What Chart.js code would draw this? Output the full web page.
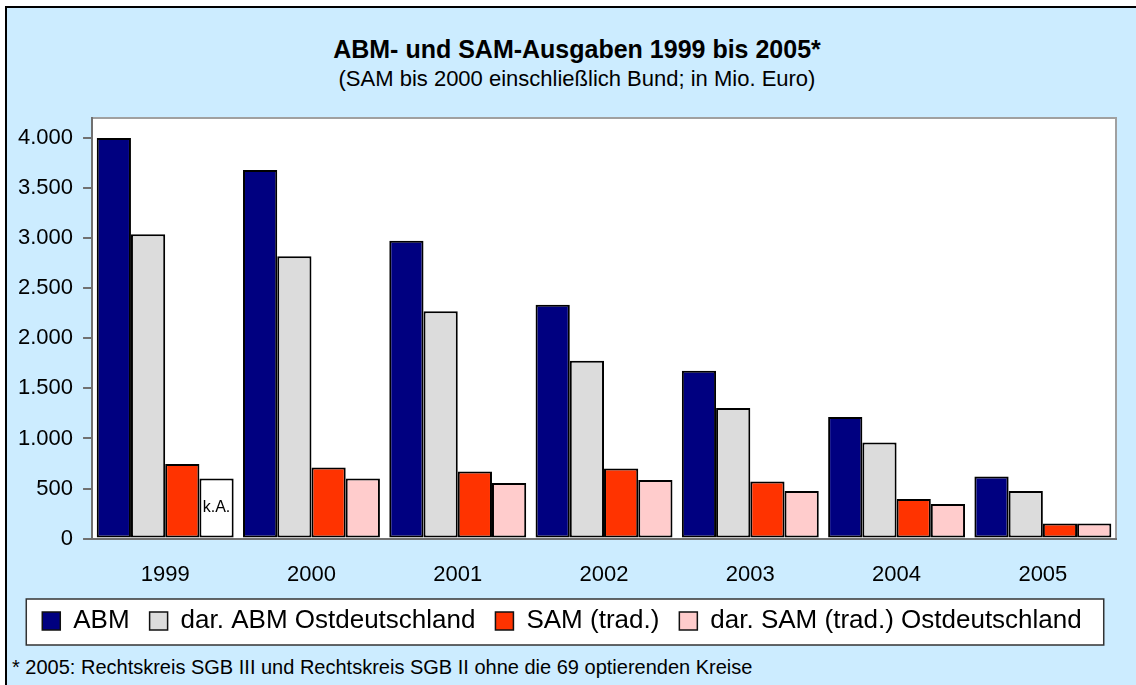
<!DOCTYPE html>
<html lang="de">
<head>
<meta charset="utf-8">
<title>ABM- und SAM-Ausgaben 1999 bis 2005</title>
<script src="https://cdn.jsdelivr.net/npm/chart.js@4/dist/chart.umd.min.js"></script>
<style>
    html, body { margin: 0; padding: 0; background: #ffffff; }
    body { width: 1136px; height: 685px; position: relative; overflow: hidden; font-family: 'Liberation Sans', Arial, sans-serif; color: #000; }
    #frame { position: absolute; left: 5px; top: 6px; width: 1200px; height: 760px; background: #ccecff; border-left: 2px solid #000; border-top: 2px solid #000; }
    #wrap { position: absolute; left: 0; top: 0; width: 1136px; height: 650px; }
    .head { position: absolute; left: 0; width: 1154px; text-align: center; white-space: nowrap; }
    #title { top: 34px; font-size: 25px; line-height: 30px; font-weight: bold; }
    #subtitle { top: 66px; font-size: 22px; line-height: 26px; }
    #footnote { position: absolute; left: 12px; top: 655px; font-size: 20px; line-height: 24px; white-space: nowrap; }
</style>
</head>
<body>
<div id="frame"></div>
<div id="title" class="head">ABM- und SAM-Ausgaben 1999 bis 2005*</div>
<div id="subtitle" class="head">(SAM bis 2000 einschließlich Bund; in Mio. Euro)</div>
<div id="wrap"><canvas id="myChart" width="1136" height="650"></canvas></div>
<div id="footnote">* 2005: Rechtskreis SGB III und Rechtskreis SGB II ohne die 69 optierenden Kreise</div>
<script>
// Werte in Mio. Euro
const years = ['1999', '2000', '2001', '2002', '2003', '2004', '2005'];
const abm = [4000, 3680, 2975, 2335, 1675, 1215, 620];
const abmOst = [3040, 2820, 2270, 1775, 1305, 960, 475];
const sam = [745, 710, 670, 700, 570, 395, 150];
const samOst = [600, 600, 555, 585, 475, 345, 150];
// Jahre ohne Angabe für SAM Ost (weißer Balken mit "k.A.")
const samOstKeineAngabe = ['1999'];
const yTicks = [0, 500, 1000, 1500, 2000, 2500, 3000, 3500, 4000];
const yMax = 4200;

const colors = ['#000080', '#dcdcdc', '#ff3300', '#ffcccc'];

Chart.defaults.font.family = "'Liberation Sans', Arial, sans-serif";
Chart.defaults.color = '#000';

function formatDe(v) {
    return String(v).replace(/\B(?=(\d{3})+(?!\d))/g, '.');
}

// weißer Hintergrund der Zeichenfläche + Legendenrahmen
const backgroundPlugin = {
    id: 'backgrounds',
    beforeDraw(chart) {
        const ctx = chart.ctx;
        const a = chart.chartArea;
        ctx.save();
        ctx.fillStyle = '#ffffff';
        ctx.fillRect(a.left, a.top, a.right - a.left, a.bottom - a.top);
        ctx.strokeStyle = '#a0a0a0';
        ctx.lineWidth = 2;
        ctx.beginPath();
        ctx.moveTo(a.left, a.top);
        ctx.lineTo(a.right, a.top);
        ctx.lineTo(a.right, a.bottom);
        ctx.stroke();

        const boxes = chart.legend.legendHitBoxes;
        if (boxes && boxes.length) {
            const first = boxes[0];
            const last = boxes[boxes.length - 1];
            const cy = first.top + first.height / 2 + 1;
            const left = first.left - 16;
            const right = last.left + last.width + 22;
            ctx.fillStyle = '#ffffff';
            ctx.fillRect(left, cy - 23, right - left, 46);
            ctx.strokeStyle = '#333';
            ctx.lineWidth = 1.5;
            ctx.strokeRect(left, cy - 23, right - left, 46);
        }
        ctx.restore();
    }
};

// "k.A." in den Balken ohne Angabe
const kaPlugin = {
    id: 'keineAngabe',
    afterDatasetsDraw(chart) {
        const meta = chart.getDatasetMeta(3);
        const ctx = chart.ctx;
        ctx.save();
        ctx.font = "16px 'Liberation Sans', Arial, sans-serif";
        ctx.fillStyle = '#000';
        ctx.textAlign = 'center';
        ctx.textBaseline = 'middle';
        years.forEach((y, i) => {
            if (!samOstKeineAngabe.includes(y)) return;
            const bar = meta.data[i];
            ctx.fillText('k.A.', bar.x, (bar.y + bar.base) / 2);
        });
        ctx.restore();
    }
};

document.addEventListener('DOMContentLoaded', function() {
    const ctx = document.getElementById('myChart').getContext('2d');
    const barStyle = {
        borderColor: '#000',
        borderWidth: 2,
        borderSkipped: false,
        categoryPercentage: 0.936,
        barPercentage: 1.0
    };
    new Chart(ctx, {
        type: 'bar',
        data: {
            labels: years,
            datasets: [
                Object.assign({ label: 'ABM', data: abm, backgroundColor: colors[0] }, barStyle),
                Object.assign({ label: 'dar. ABM Ostdeutschland', data: abmOst, backgroundColor: colors[1] }, barStyle),
                Object.assign({ label: 'SAM (trad.)', data: sam, backgroundColor: colors[2] }, barStyle),
                Object.assign({
                    label: 'dar. SAM (trad.) Ostdeutschland',
                    data: samOst,
                    backgroundColor: (c) => (c.type === 'data' && samOstKeineAngabe.includes(years[c.dataIndex])) ? '#ffffff' : colors[3]
                }, barStyle)
            ]
        },
        options: {
            responsive: false,
            animation: false,
            layout: { padding: { left: 8, right: 20, top: 118, bottom: 6 } },
            plugins: {
                title: { display: false },
                legend: {
                    position: 'bottom',
                    labels: {
                        font: { size: 26 },
                        boxWidth: 18,
                        boxHeight: 18,
                        padding: 20,
                        color: '#000',
                        generateLabels: (chart) => {
                            const items = Chart.defaults.plugins.legend.labels.generateLabels(chart);
                            items.forEach((it, i) => { it.fillStyle = colors[i]; it.strokeStyle = '#111'; it.lineWidth = 1.5; });
                            return items;
                        }
                    }
                },
                tooltip: { enabled: false }
            },
            scales: {
                x: {
                    grid: { display: false, drawTicks: true, tickLength: 23 },
                    border: { display: true, color: '#707070', width: 2 },
                    ticks: { font: { size: 22 }, padding: 0, color: '#000' }
                },
                y: {
                    min: 0,
                    max: yMax,
                    afterBuildTicks: (axis) => { axis.ticks = yTicks.map(v => ({ value: v })); },
                    grid: { drawOnChartArea: false, drawTicks: true, tickLength: 9, color: '#707070', lineWidth: 2 },
                    border: { display: true, color: '#707070', width: 2 },
                    ticks: { font: { size: 22 }, padding: 10, color: '#000', callback: (v) => formatDe(v) }
                }
            }
        },
        plugins: [backgroundPlugin, kaPlugin]
    });
});
</script>
</body>
</html>
